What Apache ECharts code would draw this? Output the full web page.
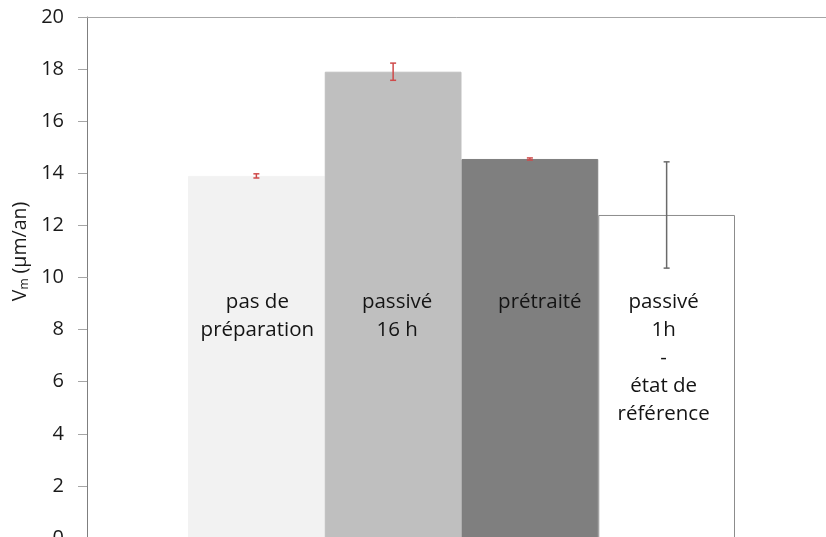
<!DOCTYPE html>
<html>
<head>
<meta charset="utf-8">
<script src="https://cdn.jsdelivr.net/npm/echarts@6/dist/echarts.min.js"></script>
<style>html,body{margin:0;padding:0;background:#fff}#chart{width:826px;height:537px}</style>
</head>
<body>
<div id="chart"></div>
<script>
// ---- data ----
const categories = ['pas de\npréparation', 'passivé\n16 h', 'prétraité', 'passivé\n1h\n-\nétat de\nréférence'];
const values = [13.9, 17.9, 14.55, 12.4];
const errors = [0.08, 0.33, 0.04, 2.04];
const yTicks = [0, 2, 4, 6, 8, 10, 12, 14, 16, 18, 20];

// ---- styles ----
const barColors = ['#f2f2f2', '#bfbfbf', '#7f7f7f', '#ffffff'];
const barBorders = ['#f2f2f2', '#bfbfbf', '#7f7f7f', '#8c8c8c'];
const errColors = ['#cf4a4a', '#cf4a4a', '#cf4a4a', '#6a6a6a'];
const labelDx = [1, 4, 10, -3];
const labelLevel = 9.6;
const FONT = '"Open Sans", "Noto Sans", sans-serif';

const chart = echarts.init(document.getElementById('chart'), null, {renderer: 'canvas'});

const option = {
  animation: false,
  backgroundColor: '#ffffff',
  grid: [
    {left: 188, right: 91, top: 17, bottom: -1, containLabel: false, outerBoundsMode: 'none'},
    {left: 87, right: -10, top: 17, bottom: -1, containLabel: false, outerBoundsMode: 'none'}
  ],
  xAxis: [
    {type: 'category', gridIndex: 0, data: categories,
     axisLine: {show: false}, axisTick: {show: false}, axisLabel: {show: false}},
    {type: 'value', gridIndex: 1, position: 'top', min: 0, max: 1,
     axisLine: {show: true, onZero: false, lineStyle: {color: '#a6a6a6', width: 1}},
     axisTick: {show: false}, axisLabel: {show: false}, splitLine: {show: false}}
  ],
  yAxis: [
    {type: 'value', gridIndex: 0, min: yTicks[0], max: yTicks[yTicks.length - 1], interval: 2,
     offset: 101,
     axisLine: {show: true, lineStyle: {color: '#7f7f7f', width: 1}},
     axisTick: {show: true, length: 9, lineStyle: {color: '#a6a6a6'}},
     axisLabel: {show: true, margin: 23, color: '#1a1a1a', fontSize: 20, fontFamily: FONT},
     splitLine: {show: false},
     name: '{a|V}{b|m}{a| (µm/an)}',
     nameLocation: 'middle', nameRotate: 90, nameGap: 46,
     nameTextStyle: {padding: [0, 0, 0, 52], rich: {
       a: {fontSize: 19.5, fontFamily: FONT, color: '#1a1a1a'},
       b: {fontSize: 12, fontFamily: FONT, color: '#1a1a1a', padding: [8, 0, 0, 0]}
     }}},
    {type: 'value', gridIndex: 1, show: false, min: 0, max: 1}
  ],
  series: [
    {type: 'bar', xAxisIndex: 0, yAxisIndex: 0, barCategoryGap: '0%',
     data: values.map((v, i) => ({value: v, itemStyle: {color: barColors[i], borderColor: barBorders[i], borderWidth: 1}})),
     z: 2},
    {type: 'custom', xAxisIndex: 0, yAxisIndex: 0, z: 5,
     data: values.map((v, i) => [i, v, errors[i]]),
     renderItem: function (params, api) {
       const i = api.value(0), v = api.value(1), e = api.value(2);
       const top = api.coord([i, v + e]);
       const bot = api.coord([i, v - e]);
       const c = errColors[i];
       const hw = 3;
       const st = {stroke: c, lineWidth: 1.5};
       return {type: 'group', children: [
         {type: 'line', shape: {x1: top[0], y1: top[1], x2: bot[0], y2: bot[1]}, style: st},
         {type: 'line', shape: {x1: top[0] - hw, y1: top[1], x2: top[0] + hw, y2: top[1]}, style: st},
         {type: 'line', shape: {x1: bot[0] - hw, y1: bot[1], x2: bot[0] + hw, y2: bot[1]}, style: st}
       ]};
     }},
    {type: 'custom', xAxisIndex: 0, yAxisIndex: 0, z: 6,
     data: categories.map((c, i) => [i, labelLevel]),
     renderItem: function (params, api) {
       const i = api.value(0);
       const p = api.coord([i, api.value(1)]);
       return {type: 'text', x: p[0] + labelDx[i], y: p[1],
         style: {text: categories[i], fill: '#141414', fontSize: 20.5, fontFamily: FONT,
                 align: 'center', verticalAlign: 'top', lineHeight: 28}};
     }}
  ]
};
chart.setOption(option);
</script>
</body>
</html>
